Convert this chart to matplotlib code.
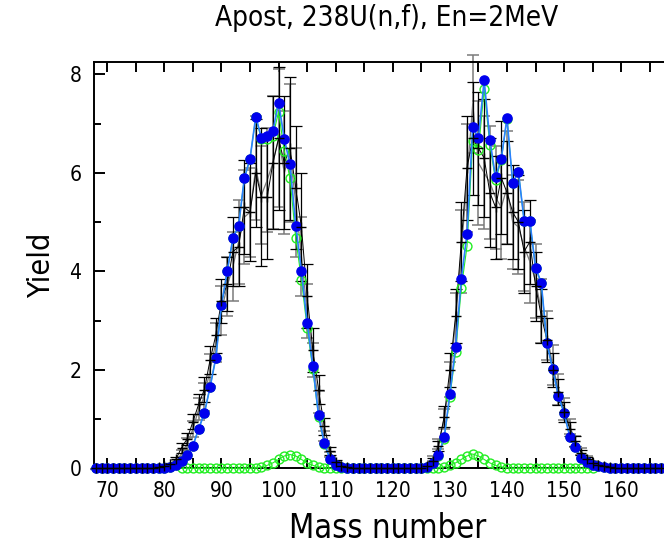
import numpy as np
import matplotlib
matplotlib.use("Agg")
import matplotlib.pyplot as plt
from matplotlib import font_manager
from matplotlib.ticker import MultipleLocator, FuncFormatter

# ---------------- data ----------------
mass = list(range(68, 168))

# evaluation (blue filled circles)
yield_total = [0, 0, 0, 0, 0, 0, 0, 0, 0, 0, 0, 0.005,
               0.01, 0.03, 0.07, 0.14, 0.26, 0.46, 0.80, 1.12, 1.65, 2.24,
               3.32, 4.00, 4.67, 4.93, 5.89, 6.29, 7.14, 6.71, 6.75, 6.85,
               7.42, 6.69, 6.17, 4.93, 4.01, 2.96, 2.07, 1.08, 0.51, 0.19,
               0.07, 0.03, 0.01,
               0, 0, 0, 0, 0, 0, 0, 0, 0, 0, 0, 0, 0,
               0.02, 0.10, 0.26, 0.63, 1.51, 2.47, 3.84, 4.76, 6.93, 6.71,
               7.88, 6.67, 5.91, 6.29, 7.11, 5.79, 6.02, 5.03, 5.03, 4.07,
               3.77, 2.54, 2.02, 1.47, 1.12, 0.64, 0.43, 0.21, 0.12, 0.07,
               0.04, 0.02, 0.01,
               0, 0, 0, 0, 0, 0, 0, 0, 0]

# ground-state component (green open circles, main)
yield_ground = [0, 0, 0, 0, 0, 0, 0, 0, 0, 0, 0, 0.005,
                0.01, 0.03, 0.07, 0.14, 0.26, 0.46, 0.80, 1.12, 1.65, 2.24,
                3.32, 4.00, 4.67, 4.93, 5.89, 6.29, 7.13, 6.68, 6.69, 6.74,
                7.24, 6.44, 5.89, 4.68, 3.83, 2.85, 2.01, 1.05, 0.50, 0.19,
                0.07, 0.03, 0.01,
                0, 0, 0, 0, 0, 0, 0, 0, 0, 0, 0, 0, 0,
                0.02, 0.10, 0.25, 0.60, 1.45, 2.36, 3.66, 4.51, 6.64, 6.46,
                7.70, 6.56, 5.85, 6.26, 7.10, 5.79, 6.02, 5.03, 5.03, 4.07,
                3.77, 2.54, 2.02, 1.47, 1.12, 0.64, 0.43, 0.21, 0.12, 0.07,
                0.04, 0.02, 0.01,
                0, 0, 0, 0, 0, 0, 0, 0, 0]

# isomeric component (green open circles, small bumps)
mass_iso = list(range(83, 156))
yield_iso = [0, 0, 0, 0, 0, 0, 0, 0, 0, 0, 0, 0, 0, 0.01,
             0.03, 0.06, 0.11, 0.18, 0.25, 0.28, 0.25, 0.18, 0.11, 0.06,
             0.03, 0.01,
             0, 0, 0, 0, 0, 0, 0, 0, 0, 0, 0, 0, 0, 0, 0, 0, 0, 0, 0,
             0.01, 0.03, 0.06, 0.11, 0.18, 0.25, 0.29, 0.25, 0.18, 0.11,
             0.06, 0.03, 0.01,
             0, 0, 0, 0, 0, 0, 0, 0, 0, 0, 0, 0, 0, 0, 0]

# experimental set 1 (black)
exp1_mass = list(range(68, 168))
exp1_yield = [0, 0, 0, 0, 0, 0, 0, 0, 0, 0,
              0.01, 0.02, 0.04, 0.08, 0.18, 0.42, 0.60, 0.95, 1.30, 1.60,
              2.20, 2.70, 3.40, 3.75, 4.40, 4.50, 5.30, 5.20, 6.00, 5.50,
              5.50, 6.20, 6.70, 6.20, 6.50, 5.70, 4.90, 3.50, 2.40, 1.60,
              0.85, 0.35, 0.12, 0.05, 0.02,
              0, 0, 0, 0, 0, 0, 0, 0, 0, 0, 0, 0,
              0.01, 0.04, 0.15, 0.45, 1.05, 2.00, 3.10, 4.60, 6.10, 6.70,
              6.50, 6.30, 5.60, 5.30, 5.90, 5.60, 5.20, 5.00, 4.40, 4.60,
              3.70, 3.10, 2.60, 2.00, 1.55, 1.15, 0.80, 0.55, 0.32, 0.18,
              0.10, 0.06, 0.04, 0.02, 0.01,
              0, 0, 0, 0, 0, 0, 0, 0]
exp1_err = [0.01, 0.01, 0.01, 0.01, 0.01, 0.01, 0.01, 0.01, 0.01, 0.01,
            0.01, 0.01, 0.02, 0.03, 0.05, 0.10, 0.12, 0.16, 0.20, 0.25,
            0.28, 0.35, 0.45, 0.55, 0.70, 0.80, 0.95, 1.00, 1.10, 1.40,
            1.25, 1.35, 1.45, 1.35, 1.45, 1.25, 1.10, 0.65, 0.45, 0.30,
            0.18, 0.08, 0.04, 0.02, 0.01,
            0.01, 0.01, 0.01, 0.01, 0.01, 0.01, 0.01, 0.01, 0.01, 0.01, 0.01, 0.01,
            0.01, 0.02, 0.05, 0.10, 0.22, 0.35, 0.55, 0.80, 1.05, 1.15,
            1.15, 1.20, 1.10, 1.05, 1.15, 1.05, 0.95, 0.95, 0.85, 0.85,
            0.70, 0.55, 0.45, 0.35, 0.27, 0.20, 0.14, 0.10, 0.06, 0.04,
            0.02, 0.01, 0.01, 0.01, 0.01,
            0.01, 0.01, 0.01, 0.01, 0.01, 0.01, 0.01, 0.01]

# experimental set 2 (gray)
exp2_mass = list(range(80, 159))
exp2_yield = [0.03, 0.06, 0.12, 0.30, 0.50, 0.80, 1.20, 1.45, 2.00, 2.55,
              3.20, 3.70, 4.10, 4.60, 5.10, 5.20, 6.10, 5.55, 5.85, 6.20,
              6.70, 6.00, 6.40, 5.40, 4.30, 3.20, 2.20, 1.35, 0.65, 0.28,
              0.10, 0.04, 0.02,
              0, 0, 0, 0, 0, 0, 0, 0, 0, 0, 0, 0,
              0.02, 0.05, 0.20, 0.50, 1.00, 1.80, 3.00, 4.40, 5.90, 7.40,
              6.20, 6.00, 5.80, 5.50, 5.30, 5.70, 5.00, 4.90, 4.50, 4.20,
              3.80, 3.20, 2.70, 2.10, 1.60, 1.20, 0.85, 0.55, 0.35, 0.20,
              0.12, 0.07, 0.04, 0.02]
exp2_err = [0.01, 0.02, 0.04, 0.08, 0.12, 0.16, 0.22, 0.28, 0.32, 0.40,
            0.50, 0.60, 0.70, 0.85, 0.95, 0.90, 1.05, 1.00, 1.05, 1.35,
            1.40, 1.25, 1.40, 1.10, 0.80, 0.55, 0.35, 0.22, 0.10, 0.05,
            0.02, 0.01, 0.01,
            0.01, 0.01, 0.01, 0.01, 0.01, 0.01, 0.01, 0.01, 0.01, 0.01, 0.01, 0.01,
            0.01, 0.02, 0.05, 0.10, 0.20, 0.35, 0.55, 0.85, 1.10, 1.00,
            1.25, 1.15, 1.15, 1.05, 1.05, 1.15, 0.95, 0.95, 0.90, 0.85,
            0.75, 0.65, 0.50, 0.40, 0.32, 0.22, 0.16, 0.11, 0.07, 0.05,
            0.03, 0.02, 0.01, 0.01]

x_ticks = [70, 80, 90, 100, 110, 120, 130, 140, 150, 160]
y_ticks = [0, 2, 4, 6, 8]
title = "Apost, 238U(n,f), En=2MeV"
xlabel = "Mass number"
ylabel = "Yield"

# ---------------- style ----------------
names = {f.name for f in font_manager.fontManager.ttflist}
fam = [n for n in ["Liberation Sans Narrow", "DejaVu Sans"] if n in names]
plt.rcParams['font.family'] = fam
plt.rcParams['font.stretch'] = 'condensed'

fig = plt.figure(figsize=(6.64, 5.49), dpi=100)
ax = fig.add_axes([94 / 664, 1 - 468.3 / 549, 1 - 94 / 664, (468.3 - 62) / 549])

gray = '#7a7a7a'
green = '#22ee22'

# experimental data, gray
ax.errorbar(exp2_mass, exp2_yield, yerr=exp2_err, fmt='none', ecolor=gray,
            elinewidth=1.1, capsize=4.5, capthick=1.1, zorder=2, clip_on=False)
ax.plot(exp2_mass, exp2_yield, color=gray, lw=0.9, zorder=2)
# experimental data, black
ax.errorbar(exp1_mass, exp1_yield, yerr=exp1_err, fmt='none', ecolor='black',
            elinewidth=0.9, capsize=4.5, capthick=0.9, zorder=2.1, clip_on=False)
ax.plot(exp1_mass, exp1_yield, color='black', lw=0.7, zorder=2.1)

# components (green)
ax.plot(mass_iso, yield_iso, color=green, lw=0.8, marker='o', ms=6.4,
        mfc='none', mec=green, mew=1.0, zorder=3, clip_on=False)
ax.plot(mass, yield_ground, color=green, lw=0.8, marker='o', ms=6.4,
        mfc='none', mec=green, mew=1.0, zorder=3.1, clip_on=False)

# evaluation (blue)
ax.plot(mass, yield_total, color='#2a7fff', lw=1.2, zorder=4)
ax.plot(mass, yield_total, ls='none', marker='o', ms=6.6, mfc='#0000ee',
        mec='#0000ee', zorder=4.1, clip_on=False)

# "+" markers of the black data set
ax.plot(exp1_mass, exp1_yield, ls='none', marker='+', ms=7, mew=1.0,
        color='black', zorder=5, clip_on=False)

ax.set_xlim(67.67, 167.5)
ax.set_ylim(0, 8.25)

ax.xaxis.set_major_locator(MultipleLocator(5))
ax.xaxis.set_major_formatter(FuncFormatter(lambda v, p: f"{int(round(v))}" if int(round(v)) in x_ticks else ""))
ax.set_yticks(y_ticks)
ax.yaxis.set_minor_locator(MultipleLocator(1))

ax.tick_params(axis='x', which='major', direction='in', length=7, width=1.4,
               top=True, bottom=True, labelsize=15, pad=9)
ax.tick_params(axis='y', which='major', direction='in', length=8, width=1.4,
               labelsize=15, pad=9)
ax.tick_params(axis='y', which='minor', direction='in', length=5, width=1.4)

for s in ['left', 'top', 'bottom']:
    ax.spines[s].set_linewidth(1.4)
ax.spines['right'].set_visible(False)

ax.set_xlabel(xlabel, fontsize=23.5)
ax.xaxis.set_label_coords((388 - 94) / (664 - 94), -0.108)
ax.set_ylabel(ylabel, fontsize=22, labelpad=10)
fig.text(387 / 664, 1 - 18 / 549, title, fontsize=20, ha='center', va='center')

fig.savefig("out.png", dpi=100)
